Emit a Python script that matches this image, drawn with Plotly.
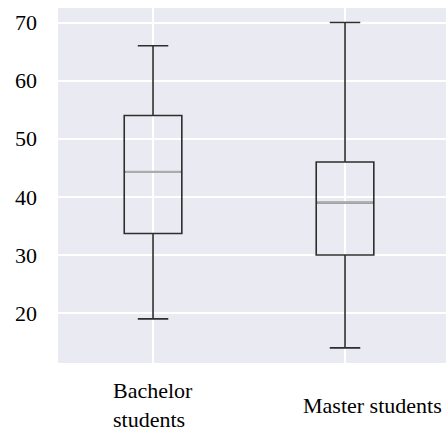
import plotly.graph_objects as go

# Summary statistics of age for the two student groups
categories = ["Bachelor<br>students", "Master students"]
lower_whisker = [19, 14]
q1 = [33.7, 30.0]
median = [44.3, 39.0]
q3 = [54.0, 46.0]
upper_whisker = [66, 70]
y_ticks = [20, 30, 40, 50, 60, 70]

BOX_WIDTH = 0.3
LINE_COLOR = "#2e2e2e"
MEDIAN_COLOR = "#ababab"
FONT = "Liberation Serif, Tinos, Times New Roman, serif"

fig = go.Figure()

for i, name in enumerate(categories):
    fig.add_trace(go.Box(
        x=[i],
        q1=[q1[i]],
        median=[median[i]],
        q3=[q3[i]],
        lowerfence=[lower_whisker[i]],
        upperfence=[upper_whisker[i]],
        width=BOX_WIDTH,
        whiskerwidth=0.53,
        fillcolor="rgba(0,0,0,0)",
        line=dict(color=LINE_COLOR, width=1.6),
        showlegend=False,
        hoverinfo="skip",
    ))

# Grey median lines drawn over the boxes
for i in range(len(categories)):
    fig.add_trace(go.Scatter(
        x=[i - BOX_WIDTH / 2 + 0.005, i + BOX_WIDTH / 2 - 0.005],
        y=[median[i], median[i]],
        mode="lines",
        line=dict(color=MEDIAN_COLOR, width=2.4),
        showlegend=False,
        hoverinfo="skip",
    ))

# Category labels under the axis
shifts = [0, 27]
for i, name in enumerate(categories):
    fig.add_annotation(
        x=i, xref="x", y=0, yref="paper",
        yshift=-42, xshift=shifts[i],
        yanchor="middle", xanchor="center", align="left",
        text=name, showarrow=False,
        font=dict(family=FONT, size=22, color="black"),
    )

fig.update_layout(
    width=446, height=431,
    margin=dict(l=58, r=0, t=8, b=68),
    paper_bgcolor="white",
    plot_bgcolor="#EAEAF2",
    font=dict(family=FONT, size=22, color="black"),
)
fig.update_xaxes(
    range=[-0.495, 1.526],
    tickvals=list(range(len(categories))),
    showticklabels=False,
    showgrid=True, gridcolor="white", gridwidth=1.5,
    zeroline=False, showline=False, ticks="",
)
fig.update_yaxes(
    range=[11.4, 72.5],
    tickvals=y_ticks,
    showgrid=True, gridcolor="white", gridwidth=1.5,
    zeroline=False, showline=False, ticks="",
    ticklabelstandoff=20,
    tickfont=dict(family=FONT, size=22, color="black"),
)

fig.write_html("out.html")
